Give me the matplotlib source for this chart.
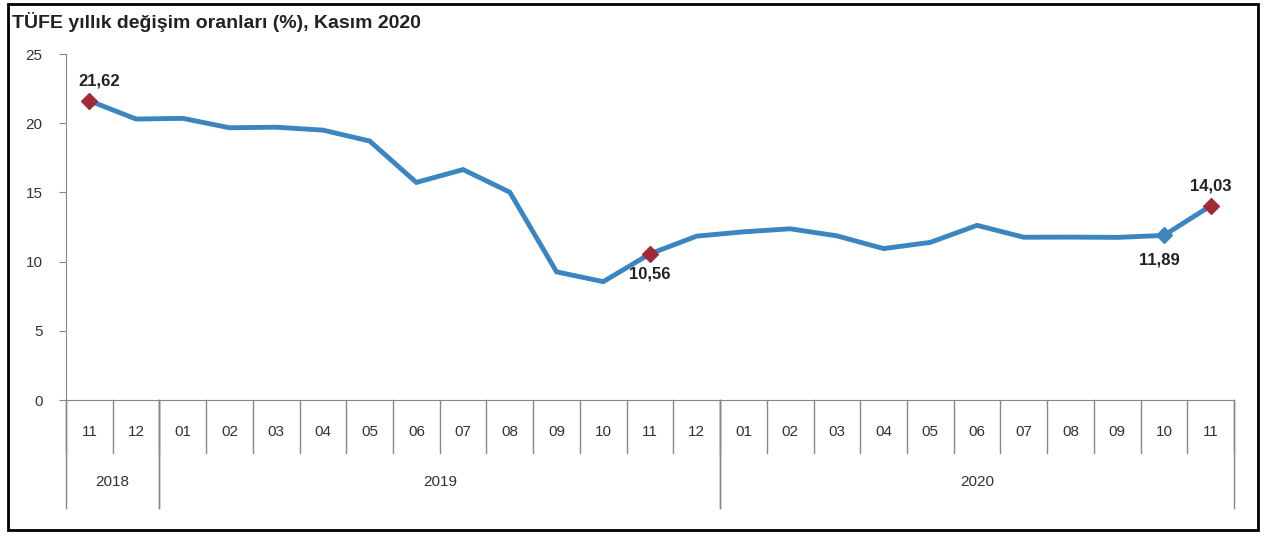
import numpy as np
import matplotlib.pyplot as plt
from matplotlib.patches import Rectangle
import matplotlib.transforms as mtransforms

plt.rcParams['font.family'] = ['Liberation Sans', 'DejaVu Sans']

months = ['11', '12', '01', '02', '03', '04', '05', '06', '07', '08', '09', '10', '11',
          '12', '01', '02', '03', '04', '05', '06', '07', '08', '09', '10', '11']
years = ['2018', '2019', '2020']
year_spans = [(0, 1), (2, 13), (14, 24)]
tufe = [21.62, 20.30, 20.35, 19.67, 19.71, 19.50, 18.71, 15.72, 16.65, 15.01, 9.26, 8.55,
        10.56, 11.84, 12.15, 12.37, 11.86, 10.94, 11.39, 12.62, 11.76, 11.77, 11.75, 11.89, 14.03]
red_idx = [0, 12, 24]
blue_idx = [23]

line_col = '#3b86c0'
red_col = '#a3283a'

fig = plt.figure(figsize=(12.64, 5.36), dpi=100)
ax = fig.add_axes([66 / 1264, 1 - 400 / 536, 1168 / 1264, 346 / 536])

x = np.arange(len(tufe))
ax.plot(x, tufe, color=line_col, lw=3.5, solid_joinstyle='miter', zorder=2)
ax.scatter(x[red_idx], np.array(tufe)[red_idx], marker='D', s=65, color=red_col, zorder=3)
ax.scatter(x[blue_idx], np.array(tufe)[blue_idx], marker='D', s=65, color=line_col, zorder=3)

lab = dict(fontsize=12, fontweight='bold', color='#222222', ha='center')
ax.text(0.2, tufe[0] + 0.9, '21,62', va='bottom', **lab)
ax.text(12.0, tufe[12] - 0.9, '10,56', va='top', **lab)
ax.text(22.9, tufe[23] - 1.2, '11,89', va='top', **lab)
ax.text(24.0, tufe[24] + 0.9, '14,03', va='bottom', **lab)

ax.set_xlim(-0.5, len(tufe) - 0.5)
ax.set_ylim(0, 25)
ax.set_yticks([0, 5, 10, 15, 20, 25])
ax.tick_params(axis='y', length=5, color='#888888', labelsize=11, labelcolor='#333333', pad=12)
ax.set_xticks([])
for s in ['top', 'right']:
    ax.spines[s].set_visible(False)
ax.spines['left'].set_color('#888888')
ax.spines['bottom'].set_color('#888888')

# category axis: months and years below the plot
trans = mtransforms.blended_transform_factory(ax.transData, ax.transAxes)
h = 346
for i, m in enumerate(months):
    ax.text(i, -32 / h, m, transform=trans, ha='center', va='center',
            fontsize=11, color='#333333', clip_on=False)
for i in range(len(months) + 1):
    ax.plot([i - 0.5, i - 0.5], [0, -53 / h], transform=trans, color='#888888',
            lw=1, clip_on=False)
for (a, b), yr in zip(year_spans, years):
    ax.text((a + b) / 2, -82 / h, yr, transform=trans, ha='center', va='center',
            fontsize=11, color='#333333', clip_on=False)
    for e in (a - 0.5, b + 0.5):
        ax.plot([e, e], [0, -108 / h], transform=trans, color='#888888',
                lw=1, clip_on=False)

fig.text(12 / 1264, 1 - 22 / 536, 'TÜFE yıllık değişim oranları (%), Kasım 2020',
         fontsize=14, fontweight='bold', color='#222222', va='center')

fig.patches.append(Rectangle((8 / 1264, 6 / 536), 1250 / 1264, 526 / 536,
                             transform=fig.transFigure, fill=False, ec='black', lw=2))

fig.savefig('out.png', dpi=100)
